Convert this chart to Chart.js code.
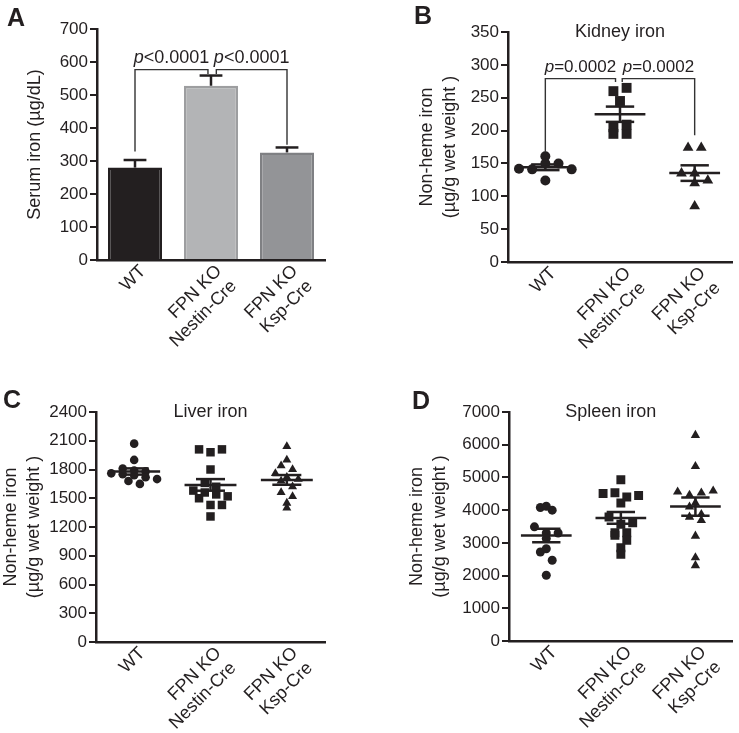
<!DOCTYPE html>
<html>
<head>
<meta charset="utf-8">
<script src="https://cdn.jsdelivr.net/npm/chart.js@4.4.1/dist/chart.umd.min.js"></script>
<style>
  body { margin: 0; background: #fff; width: 739px; height: 733px; position: relative; overflow: hidden;
         font-family: "Liberation Sans", Arial, Helvetica, sans-serif; }
  canvas { position: absolute; }
  .letter { position: absolute; font-weight: bold; font-size: 25px; line-height: 25px; color: #231f20; }
</style>
</head>
<body>
<canvas id="serum" width="370" height="370" style="left:0;top:0"></canvas>
<canvas id="kidney" width="369" height="370" style="left:370px;top:0"></canvas>
<canvas id="liver" width="370" height="363" style="left:0;top:370px"></canvas>
<canvas id="spleen" width="369" height="363" style="left:370px;top:370px"></canvas>
<div class="letter" style="left:7px;top:5px">A</div>
<div class="letter" style="left:414px;top:3px">B</div>
<div class="letter" style="left:3px;top:387px">C</div>
<div class="letter" style="left:412px;top:388px">D</div>
<script>
var groupLabels = [['WT'], ['FPN KO', 'Nestin-Cre'], ['FPN KO', 'Ksp-Cre']];

// A: serum iron, mean and SEM per group
var serumMean = [280, 528, 326];
var serumSem = [23, 31, 15];
var serumP = ['<0.0001', '<0.0001'];

// B: kidney non-heme iron, one value per mouse
var kidneyWT = [161, 142, 141, 150, 150, 141, 124];
var kidneyNestin = [260, 265, 245, 205, 195, 195, 209];
var kidneyKsp = [174, 174, 135, 135, 124, 120, 85];
var kidneyP = ['=0.0002', '=0.0002'];

// C: liver
var liverWT = [2070, 1900, 1810, 1790, 1780, 1760, 1750, 1740, 1720, 1700, 1680, 1650];
var liverNestin = [2010, 1980, 2010, 1800, 1660, 1620, 1580, 1560, 1540, 1520, 1500, 1430, 1430, 1310];
var liverKsp = [2040, 1900, 1840, 1800, 1760, 1720, 1700, 1680, 1620, 1560, 1520, 1450, 1400];

// D: spleen
var spleenWT = [4080, 4000, 4120, 3490, 3300, 3130, 3300, 2720, 2820, 2470, 2010];
var spleenNestin = [4930, 4510, 4530, 4220, 4400, 4450, 3790, 3570, 3610, 3310, 3310, 3230, 3080, 2850, 2650];
var spleenKsp = [6290, 5340, 4560, 4460, 4530, 4590, 4100, 4220, 3870, 3790, 3690, 3210, 2550, 2310];

var ink = '#231f20';
var fontFamily = '"Liberation Sans", Arial, Helvetica, sans-serif';
var yTitle2 = ['Non-heme iron', '(\u00b5g/g wet weight )'];

// text drawn on top: panel title + p values over the brackets
var panelText = {
  id: 'panelText',
  afterDatasetsDraw: function (chart, args, opts) {
    var ctx = chart.ctx, area = chart.chartArea;
    var xs = chart.scales.x, ys = chart.scales.y;
    ctx.save();
    ctx.fillStyle = ink;
    if (opts.title) {
      ctx.font = '18px ' + fontFamily;
      ctx.textAlign = 'center';
      ctx.textBaseline = 'middle';
      ctx.fillText(opts.title, (area.left + area.right) / 2 + (opts.titleShift || 0), area.top);
    }
    (opts.brackets || []).forEach(function (b) {
      var cx = (xs.getPixelForValue(b.from) + xs.getPixelForValue(b.to)) / 2;
      var cy = ys.getPixelForValue(b.level) - 7;
      var italic = 'italic ' + opts.pSize + 'px ' + fontFamily;
      var plain = opts.pSize + 'px ' + fontFamily;
      ctx.font = italic;
      var w1 = ctx.measureText('p').width;
      ctx.font = plain;
      var w2 = ctx.measureText(b.label).width;
      var left = cx - (w1 + w2) / 2;
      ctx.textAlign = 'left';
      ctx.textBaseline = 'alphabetic';
      ctx.font = italic;
      ctx.fillText('p', left, cy);
      ctx.font = plain;
      ctx.fillText(b.label, left + w1, cy);
    });
    ctx.restore();
  }
};

function seg(points, width, color) {
  return {
    type: 'line', data: points, borderColor: color || ink, borderWidth: width || 2.5,
    pointRadius: 0, fill: false, tension: 0, order: 1, borderCapStyle: 'butt'
  };
}

function meanSem(values) {
  var n = values.length;
  var m = values.reduce(function (a, b) { return a + b; }, 0) / n;
  var ss = values.reduce(function (a, v) { return a + (v - m) * (v - m); }, 0);
  return { mean: m, sem: Math.sqrt(ss / (n - 1)) / Math.sqrt(n) };
}

// spread points of similar value sideways, like a scatter dot plot
function swarm(values, yMax, d) {
  var pxY = 230 / yMax, pxX = 76.5, gap = d * 1.35;
  var bins = {};
  values.forEach(function (v, i) {
    var b = Math.floor(v * pxY / d);
    (bins[b] = bins[b] || []).push(i);
  });
  var offs = [];
  Object.keys(bins).forEach(function (b) {
    var ids = bins[b], k = ids.length;
    ids.forEach(function (i, j) {
      offs[i] = (j - (k - 1) / 2) * gap / pxX;
    });
  });
  return offs;
}

function scalesFor(yMax, yStep, yTitle, yWidth, xHeight) {
  return {
    x: {
      type: 'linear', min: 0.5, max: 3.5, offset: false,
      afterBuildTicks: function (s) { s.ticks = [1, 2, 3].map(function (v) { return { value: v }; }); },
      afterFit: function (s) { s.height = xHeight; },
      grid: { display: false, drawTicks: false },
      border: { color: ink, width: 2.5 },
      ticks: {
        autoSkip: false, minRotation: 45, maxRotation: 45, padding: 1, labelOffset: 8, color: ink,
        font: { size: 18, family: fontFamily, lineHeight: 1.17 },
        callback: function (v) { return groupLabels[Math.round(v) - 1]; }
      }
    },
    y: {
      min: 0, max: yMax,
      afterFit: function (s) { s.width = yWidth; },
      grid: { display: true, drawOnChartArea: false, drawTicks: true, tickLength: 7, color: ink, lineWidth: 2 },
      border: { color: ink, width: 2.5 },
      ticks: { stepSize: yStep, padding: 2, color: ink, font: { size: 17, family: fontFamily },
               callback: function (v) { return String(v); } },
      title: { display: true, text: yTitle, color: ink, padding: 0,
               font: { size: 18, family: fontFamily, lineHeight: 1.25 } }
    }
  };
}

function baseOptions(pad, scales, text) {
  return {
    responsive: false, animation: false,
    layout: { padding: pad },
    scales: scales,
    plugins: { legend: { display: false }, tooltip: { enabled: false }, panelText: text }
  };
}

function dotDatasets(groups, yMax, d, radii) {
  var styles = ['circle', 'rect', 'triangle'];
  var sets = [];
  groups.forEach(function (vals, g) {
    var offs = swarm(vals, yMax, d);
    var c = g + 1;
    sets.push({
      type: 'scatter', order: 2,
      data: vals.map(function (v, i) { return { x: c + offs[i], y: v }; }),
      pointStyle: styles[g], pointRadius: radii[g], pointBackgroundColor: ink,
      pointBorderColor: ink, pointBorderWidth: 0
    });
    var st = meanSem(vals), m = st.mean, s = st.sem;
    sets.push(seg([{ x: c - 0.34, y: m }, { x: c + 0.34, y: m }]));
    sets.push(seg([{ x: c - 0.19, y: m + s }, { x: c + 0.19, y: m + s }]));
    sets.push(seg([{ x: c - 0.19, y: m - s }, { x: c + 0.19, y: m - s }]));
    sets.push(seg([{ x: c, y: m - s }, { x: c, y: m + s }]));
  });
  return sets;
}

function bracketSets(brackets) {
  return brackets.map(function (b) {
    return seg([{ x: b.from, y: b.lowFrom }, { x: b.from, y: b.level },
                { x: b.to, y: b.level }, { x: b.to, y: b.lowTo }], 1.4, '#333333');
  });
}

// ---- A: serum iron bars ----
var serumBrackets = [
  { from: 1, to: 1.96, lowFrom: 329, lowTo: 564, level: 577, label: serumP[0] },
  { from: 2.07, to: 3, lowFrom: 564, lowTo: 349, level: 577, label: serumP[1] }
];
var serumSets = [{
  type: 'bar', order: 3,
  data: serumMean.map(function (m, i) { return { x: i + 1, y: m }; }),
  backgroundColor: ['#231f20', '#b3b4b6', '#939497'],
  borderColor: ['#231f20', '#9d9ea0', '#7f8083'],
  borderWidth: 2.5, barPercentage: 0.9, categoryPercentage: 0.79
}];
serumMean.forEach(function (m, i) {
  var c = i + 1, top = m + serumSem[i];
  serumSets.push(seg([{ x: c, y: m }, { x: c, y: top }]));
  serumSets.push(seg([{ x: c - 0.15, y: top }, { x: c + 0.15, y: top }]));
});
serumSets = serumSets.concat(bracketSets(serumBrackets));

new Chart(document.getElementById('serum'), {
  type: 'scatter',
  data: { datasets: serumSets },
  options: baseOptions({ left: 24, right: 45, top: 29, bottom: 0 },
    scalesFor(700, 100, 'Serum iron (\u00b5g/dL)', 73, 110),
    { pSize: 18, brackets: serumBrackets }),
  plugins: [panelText]
});

// ---- B: kidney ----
var kidneyBrackets = [
  { from: 1, to: 1.94, lowFrom: 167, lowTo: 274, level: 279, label: kidneyP[0] },
  { from: 2.03, to: 3, lowFrom: 274, lowTo: 193, level: 279, label: kidneyP[1] }
];
new Chart(document.getElementById('kidney'), {
  type: 'scatter',
  data: { datasets: dotDatasets([kidneyWT, kidneyNestin, kidneyKsp], 350, 10, [5, 7, 6.2])
                      .concat(bracketSets(kidneyBrackets)) },
  options: baseOptions({ left: 46, right: 1, top: 32, bottom: 0 },
    scalesFor(350, 50, yTitle2, 92, 108),
    { title: 'Kidney iron', pSize: 17, brackets: kidneyBrackets }),
  plugins: [panelText]
});

// ---- C: liver ----
new Chart(document.getElementById('liver'), {
  type: 'scatter',
  data: { datasets: dotDatasets([liverWT, liverNestin, liverKsp], 2400, 8.5, [4.3, 6, 5.2]) },
  options: baseOptions({ left: 0, right: 45, top: 42, bottom: 0 },
    scalesFor(2400, 300, yTitle2, 96, 91),
    { title: 'Liver iron' }),
  plugins: [panelText]
});

// ---- D: spleen ----
new Chart(document.getElementById('spleen'), {
  type: 'scatter',
  data: { datasets: dotDatasets([spleenWT, spleenNestin, spleenKsp], 7000, 9, [4.5, 6.3, 5.4]) },
  options: baseOptions({ left: 36, right: 0, top: 42, bottom: 0 },
    scalesFor(7000, 1000, yTitle2, 103, 92),
    { title: 'Spleen iron', titleShift: -10 }),
  plugins: [panelText]
});
</script>
</body>
</html>
